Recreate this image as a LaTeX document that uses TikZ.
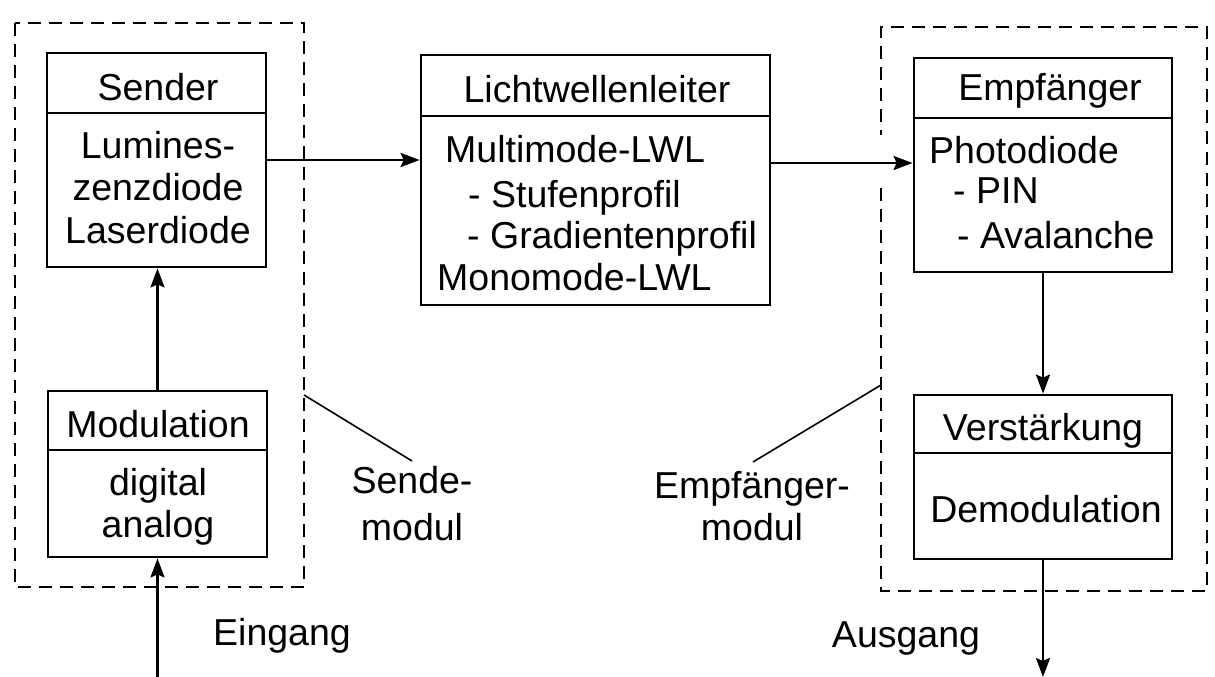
\documentclass[tikz,border=0pt]{standalone}
\usepackage{fontspec}
\setmainfont{Liberation Sans}
\usetikzlibrary{arrows.meta}
\tikzset{
  box/.style={draw, line width=2.8pt, rectangle, inner sep=0pt},
  divider/.style={line width=2.4pt},
  txt/.style={inner sep=0pt, font=\fontsize{37.5pt}{45pt}\selectfont},
  ctext/.style={txt, anchor=base},
  ltext/.style={txt, anchor=base west},
  arr/.style={line width=2.3pt, -{Stealth[length=19pt,width=14pt,inset=3pt]}},
  modbox/.style={line width=2.4pt, dash pattern=on 13pt off 8pt},
  leader/.style={line width=1.6pt},
}
\begin{document}
\begin{tikzpicture}[x=1pt,y=-1pt]
\useasboundingbox (0,0) rectangle (1215,677);
\fill[white] (0,0) rectangle (1215,677);

% dashed module frames
\draw[modbox] (15,23) rectangle (304,587);
\draw[modbox] (881,188) -- (881,591) -- (1207,591) -- (1207,27) -- (881,27) -- (881,135);

% boxes
\node[box, minimum width=219pt, minimum height=214pt] (sender) at (156.5,160) {};
\node[box, minimum width=219pt, minimum height=166pt] (modul) at (157.5,474) {};
\node[box, minimum width=349pt, minimum height=250pt] (lwl) at (595.5,180) {};
\node[box, minimum width=258pt, minimum height=214pt] (empf) at (1043,165) {};
\node[box, minimum width=258pt, minimum height=164pt] (verst) at (1043,477) {};

% dividers
\draw[divider] (sender.west |- 0,113) -- (sender.east |- 0,113);
\draw[divider] (modul.west |- 0,450) -- (modul.east |- 0,450);
\draw[divider] (lwl.west |- 0,116) -- (lwl.east |- 0,116);
\draw[divider] (empf.west |- 0,118) -- (empf.east |- 0,118);
\draw[divider] (verst.west |- 0,453) -- (verst.east |- 0,453);

% box texts
\node[ctext] (t1) at (158,100) {Sender};
\node[ctext] (t2) at (158,158) {Lumines-};
\node[ctext] (t3) at (158,200) {zenzdiode};
\node[ctext] (t4) at (158,243) {Laserdiode};

\node[ctext] (t5) at (158,437) {Modulation};
\node[ctext] (t6) at (158,495) {digital};
\node[ctext] (t7) at (158,537) {analog};

\node[ctext] (t8) at (597,102) {Lichtwellenleiter};
\node[ltext] (t9) at (445,162) {Multimode-LWL};
\node[ltext] (t10) at (468,207) {- Stufenprofil};
\node[ltext] (t11) at (467,248) {- Gradientenprofil};
\node[ltext] (t12) at (437,290) {Monomode-LWL};

\node[ctext] (t13) at (1050,100) {Empfänger};
\node[ltext] (t14) at (929,163) {Photodiode};
\node[ltext] (t15) at (953,203) {- PIN};
\node[ltext] (t16) at (957,248) {- Avalanche};

\node[ctext] (t17) at (1043,440) {Verstärkung};
\node[ctext] (t18) at (1046,522) {Demodulation};

% free labels
\node[ctext] (eing) at (282,645) {Eingang};
\node[ctext] (ausg) at (906,647) {Ausgang};
\node[ctext] (sm1) at (412,493) {Sende-};
\node[ctext] (sm2) at (412,540) {modul};
\node[ctext] (em1) at (752,498) {Empfänger-};
\node[ctext] (em2) at (752,540) {modul};

% connectors
\coordinate (in) at (157.5,677);
\coordinate (out) at (1043,677);
\draw[arr] (sender.east) -- (sender.east -| lwl.west);
\draw[arr] (lwl.east |- 0,163) -- (empf.west |- 0,163);
\draw[arr] (modul.north) -- (modul.north |- sender.south);
\draw[arr] (in) -- (modul.south);
\draw[arr] (empf.south) -- (verst.north);
\draw[arr] (verst.south) -- (out);

% leader lines
\coordinate (sl0) at (304,395);
\coordinate (sl1) at (412,461);
\coordinate (el0) at (881,385);
\coordinate (el1) at (753,462);
\draw[leader] (sl0) -- (sl1);
\draw[leader] (el0) -- (el1);
\end{tikzpicture}
\end{document}
